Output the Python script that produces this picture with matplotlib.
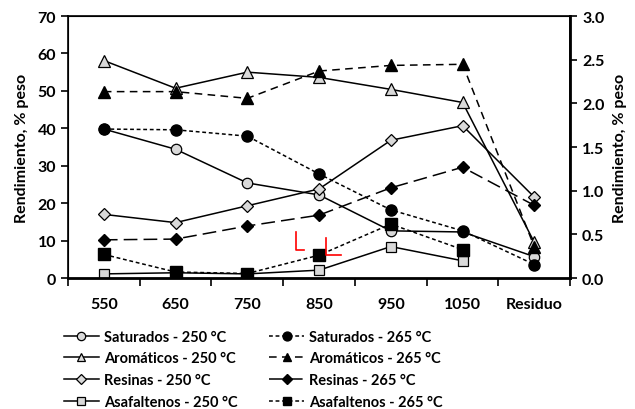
import numpy as np
import matplotlib.pyplot as plt

plt.rcParams['font.family'] = ['Lato', 'DejaVu Sans']
plt.rcParams['font.weight'] = 'bold'

categories = ['550', '650', '750', '850', '950', '1050', 'Residuo']

# Rendimiento, % peso
sat_250 = [39.8, 34.4, 25.4, 22.2, 12.6, 12.3, 5.7]
sat_265 = [39.8, 39.6, 37.9, 27.8, 18.2, 12.6, 3.6]
aro_250 = [58.1, 50.7, 55.0, 53.6, 50.4, 46.9, 9.5]
aro_265 = [49.8, 49.8, 48.0, 55.3, 56.8, 57.1, 8.3]
res_250 = [17.0, 14.8, 19.3, 23.8, 36.8, 40.7, 21.6]
res_265 = [10.2, 10.4, 13.9, 16.8, 24.1, 29.6, 19.4]
asf_250 = [1.1, 1.4, 1.1, 2.1, 8.4, 4.6]
asf_265 = [6.3, 1.6, 1.2, 6.1, 14.4, 7.6]

x = np.arange(len(categories))
grey = '#d9d9d9'

fig = plt.figure(figsize=(6.35, 4.10), dpi=100)
ax = fig.add_axes([0.107, 0.3195, 0.791, 0.639])

# series at 250 C: solid line, grey markers
st = dict(color='black', lw=1.1, mec='black', mew=0.9, mfc=grey)
h1, = ax.plot(x, sat_250, marker='o', ms=7.5, label='Saturados - 250 °C', **st)
h2, = ax.plot(x, aro_250, marker='^', ms=8, label='Aromáticos - 250 °C', **st)
h3, = ax.plot(x, res_250, marker='D', ms=6, label='Resinas - 250 °C', **st)
h4, = ax.plot(x[:len(asf_250)], asf_250, marker='s', ms=7.5, label='Asafaltenos - 250 °C', **st)

# series at 265 C: dashed lines, black markers
bk = dict(color='black', lw=1.1, mec='black', mfc='black')
h5, = ax.plot(x, sat_265, marker='o', ms=8, dashes=(2.5, 1.8), label='Saturados - 265 °C', **bk)
h6, = ax.plot(x, aro_265, marker='^', ms=8, dashes=(5, 3.5), label='Aromáticos - 265 °C', **bk)
h7, = ax.plot(x, res_265, marker='D', ms=6, dashes=(9, 4), label='Resinas - 265 °C', **bk)
h8, = ax.plot(x[:len(asf_265)], asf_265, marker='s', ms=8, dashes=(2.5, 1.8), label='Asafaltenos - 265 °C', **bk)

# red marks around the 850 point
ax.plot([2.675, 2.675, 2.79], [12.3, 7.6, 7.6], color='red', lw=1.2)
ax.plot([3.095, 3.095, 3.30], [10.7, 6.1, 6.1], color='red', lw=1.2)

ax.set_xlim(-0.5, len(categories) - 0.5)
ax.set_ylim(0, 70)
ax.set_yticks(np.arange(0, 71, 10))
ax.set_xticks(x)
ax.set_xticklabels(categories)
ax.set_xticks(np.arange(-0.5, len(categories), 1), minor=True)
ax.tick_params(axis='x', which='major', length=0, pad=14, labelsize=11.5)
ax.tick_params(axis='x', which='minor', length=6, width=1.2, direction='out')
ax.tick_params(axis='y', length=5, width=1.2, direction='out', labelsize=11.5)
ax.set_ylabel('Rendimiento, % peso', fontsize=11.5, fontweight='bold', labelpad=6)
for s in ax.spines.values():
    s.set_linewidth(1.2)
ax.spines['bottom'].set_linewidth(2)

ax2 = ax.twinx()
ax2.set_ylim(0, 3.0)
ax2.set_yticks(np.arange(0, 3.01, 0.5))
ax2.set_yticklabels(['%.1f' % v for v in np.arange(0, 3.01, 0.5)])
ax2.tick_params(axis='y', length=5, width=1.2, direction='out', labelsize=11.5)
ax2.set_ylabel('Rendimiento, % peso', fontsize=11.5, fontweight='bold', labelpad=6)
ax2.spines['right'].set_linewidth(2)

fig.legend(handles=[h1, h2, h3, h4, h5, h6, h7, h8], ncol=2, loc='upper left',
           bbox_to_anchor=(0.100, 0.193), frameon=False, fontsize=10.5,
           handlelength=2.4, handletextpad=0.35, columnspacing=2.2,
           labelspacing=0.52, borderaxespad=0, borderpad=0, markerscale=0.8)

fig.savefig('out.png', dpi=100)
